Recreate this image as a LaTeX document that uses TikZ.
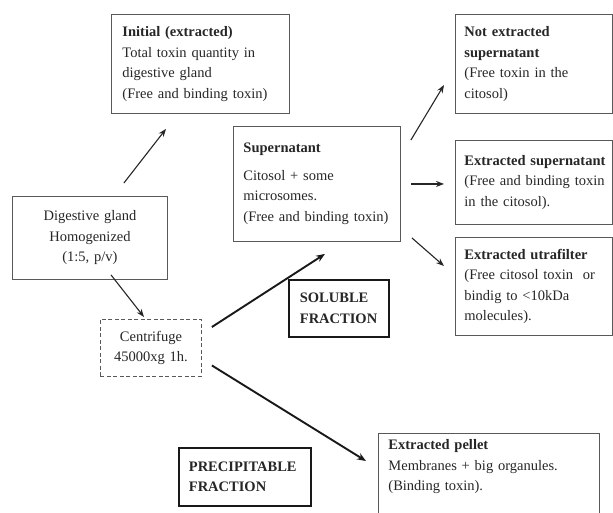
\documentclass[tikz,border=0pt]{standalone}
\usepackage{fontspec}
\setmainfont{Liberation Serif}
\usetikzlibrary{calc,arrows.meta}
\hbadness=10000 \hfuzz=20pt
\begin{document}
\begin{tikzpicture}[x=1pt,y=-1pt,
  every node/.style={font=\fontsize{14.5}{20.5}\selectfont, text=black!85},
  box/.style={draw=black!65, line width=0.9pt, anchor=north west, align=left, inner ysep=4pt},
  thickbox/.style={draw=black!90, line width=1.8pt, anchor=north west, align=left, inner ysep=4pt},
  dashbox/.style={draw=black!65, line width=0.9pt, dash pattern=on 4pt off 2.5pt, anchor=north west, align=center, inner ysep=4pt},
  thinarrow/.style={draw=black!85, line width=1.1pt, -{Stealth[length=8pt,width=6pt]}},
  thickarrow/.style={draw=black!90, line width=1.9pt, -{Stealth[length=9pt,width=7pt]}}
]
\useasboundingbox (0,0) rectangle (613,512);
\clip (0,0) rectangle (613,512);

\node[box, text width=156pt, inner xsep=11pt, minimum height=99pt] (init) at (111,14)
  {\textbf{Initial (extracted)}\\Total toxin quantity in\\digestive gland\\(Free and binding toxin)};

\node[box, text width=147pt, inner xsep=10pt, minimum height=115pt] (sup) at (233,126)
  {\textbf{Supernatant}\\[7pt]Citosol + some\\microsomes.\\\mbox{(Free and binding toxin)}};

\node[box, align=center, text width=135pt, inner xsep=10pt, minimum height=83pt] (dig) at (12,196)
  {Digestive gland\\Homogenized\\(1:5, p/v)};

\node[dashbox, text width=85pt, inner xsep=8pt, minimum height=57pt] (cent) at (100,319)
  {Centrifuge\\45000xg 1h.};

\node[box, text width=139pt, inner xsep=9pt, minimum height=99pt] (notx) at (455,14)
  {\textbf{Not extracted}\\\textbf{supernatant}\\(Free toxin in the\\citosol)};

\node[box, text width=139pt, inner xsep=9pt, minimum height=84pt] (exsup) at (455,140)
  {\mbox{\textbf{Extracted supernatant}}\\\mbox{(Free and binding toxin}\\in the citosol).};

\node[box, text width=139pt, inner xsep=9pt, minimum height=98pt] (utra) at (455,237)
  {\mbox{\textbf{Extracted utrafilter}}\\\mbox{(Free citosol toxin~ or}\\bindig to <10kDa\\molecules).};

\node[thickbox, text width=78pt, inner xsep=11pt, minimum height=57pt] (sol) at (288,279)
  {\textbf{SOLUBLE}\\\textbf{FRACTION}};

\node[thickbox, text width=112pt, inner xsep=10pt, minimum height=58pt] (prec) at (178,447)
  {\textbf{PRECIPITABLE}\\\textbf{FRACTION}};

\node[box, text width=201pt, inner xsep=10pt, inner ysep=6pt] (pel) at (378,433)
  {\textbf{Extracted pellet}\\Membranes + big organules.\\(Binding toxin).\\\strut\\\strut};

% connectors
\draw[thinarrow] ($(dig.north east)+(-44,-13)$) -- ($(init.south west)+(55,15)$);
\draw[thinarrow] ($(dig.south west)+(99,-5)$) -- ($(cent.north west)+(44,-2)$);
\draw[thickarrow] ($(cent.north east)+(10,8)$) -- ($(sup.south west)+(92,12)$);
\draw[thickarrow] ($(cent.east)+(10,17.5)$) -- ($(pel.north west)+(-12,28)$);
\draw[thinarrow] ($(sup.north east)+(10,14)$) -- ($(notx.north west)+(-11,71)$);
\draw[thinarrow] ($(sup.east)+(10,0)$) -- ($(sup.east -| exsup.west)+(-11,0)$);
\draw[thinarrow] ($(sup.south east)+(11,-4)$) -- ($(utra.north west)+(-11,29)$);
\end{tikzpicture}
\end{document}
